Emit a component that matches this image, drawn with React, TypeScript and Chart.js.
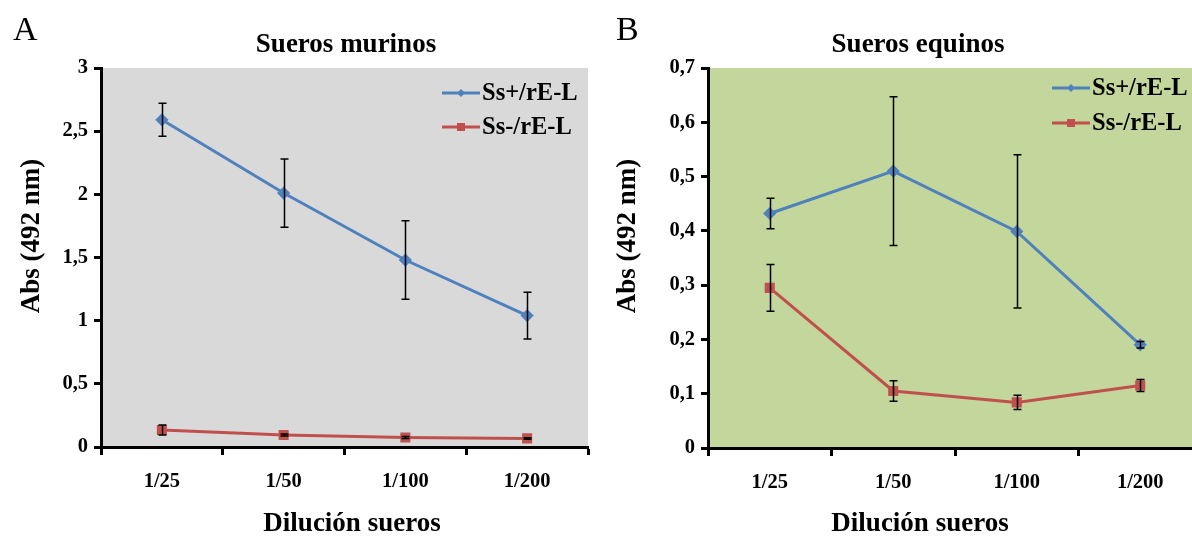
import React, { useEffect, useRef } from "react";
import { Chart, registerables } from "chart.js";

Chart.register(...registerables);

// Serum dilutions on the x axis
const categories = ["1/25", "1/50", "1/100", "1/200"];
const seriesNames = ["Ss+/rE-L", "Ss-/rE-L"];

// Panel A: murine sera (absorbance at 492 nm, mean and error)
const murinePos = [2.59, 2.01, 1.48, 1.04];
const murinePosErr = [0.13, 0.27, 0.31, 0.185];
const murineNeg = [0.135, 0.095, 0.075, 0.068];
const murineNegErr = [0.04, 0.008, 0.008, 0.006];
const murineTicks = [0, 0.5, 1, 1.5, 2, 2.5, 3];

// Panel B: equine sera
const equinePos = [0.432, 0.51, 0.399, 0.19];
const equinePosErr = [0.028, 0.137, 0.141, 0.006];
const equineNeg = [0.295, 0.105, 0.084, 0.115];
const equineNegErr = [0.043, 0.019, 0.013, 0.011];
const equineTicks = [0, 0.1, 0.2, 0.3, 0.4, 0.5, 0.6, 0.7];

const BLUE = "#4f81bd";
const RED = "#c0504d";
const FONT = "'Liberation Serif', 'Times New Roman', serif";

type PanelCfg = {
  letter: string;
  letterX: number;
  title: string;
  titleX: number;
  xTitleX: number;
  yTitleX: number;
  yTitleY: number;
  bg: string;
  pos: number[];
  posErr: number[];
  neg: number[];
  negErr: number[];
  ticks: number[];
  max: number;
  yWidth: number;
  width: number;
  padRight: number;
  bottom: number;
  legendX: number;
  legendY: number[];
};

const fmt = (v: number) => String(+v.toFixed(2)).replace(".", ",");

function makeChart(canvas: HTMLCanvasElement, cfg: PanelCfg) {
  const errs = [cfg.posErr, cfg.negErr];

  const panelPlugin = {
    id: "panelDecor",
    beforeDraw(chart: any) {
      const { ctx, chartArea } = chart;
      ctx.save();
      ctx.fillStyle = cfg.bg;
      ctx.fillRect(chartArea.left, chartArea.top, chartArea.right - chartArea.left, chartArea.bottom - chartArea.top);
      ctx.restore();
    },
    afterDatasetsDraw(chart: any) {
      const { ctx } = chart;
      const x = chart.scales.x;
      const y = chart.scales.y;
      ctx.save();
      ctx.strokeStyle = "#000";
      ctx.lineWidth = 1.5;
      chart.data.datasets.forEach((ds: any, di: number) => {
        ds.data.forEach((v: number, i: number) => {
          const e = errs[di][i];
          const px = Math.round(x.getPixelForValue(i)) + 0.5;
          const top = y.getPixelForValue(v + e);
          const bot = y.getPixelForValue(v - e);
          ctx.beginPath();
          ctx.moveTo(px, top);
          ctx.lineTo(px, bot);
          ctx.moveTo(px - 4, top);
          ctx.lineTo(px + 4, top);
          ctx.moveTo(px - 4, bot);
          ctx.lineTo(px + 4, bot);
          ctx.stroke();
        });
      });
      ctx.restore();
    },
    afterDraw(chart: any) {
      const { ctx } = chart;
      ctx.save();
      ctx.fillStyle = "#000";
      ctx.textBaseline = "middle";
      // panel letter
      ctx.textAlign = "left";
      ctx.font = `34px ${FONT}`;
      ctx.fillText(cfg.letter, cfg.letterX, 31);
      // title
      ctx.textAlign = "center";
      ctx.font = `bold 27px ${FONT}`;
      ctx.fillText(cfg.title, cfg.titleX, 45);
      // x axis title
      ctx.font = `bold 27px ${FONT}`;
      ctx.fillText("Dilución sueros", cfg.xTitleX, 524);
      // y axis title
      ctx.save();
      ctx.translate(cfg.yTitleX, cfg.yTitleY);
      ctx.rotate(-Math.PI / 2);
      ctx.fillText("Abs (492 nm)", 0, 0);
      ctx.restore();
      // legend
      chart.data.datasets.forEach((ds: any, di: number) => {
        const ly = cfg.legendY[di];
        const lx = cfg.legendX;
        ctx.strokeStyle = ds.borderColor;
        ctx.lineWidth = 3;
        ctx.beginPath();
        ctx.moveTo(lx, ly);
        ctx.lineTo(lx + 38, ly);
        ctx.stroke();
        ctx.fillStyle = ds.borderColor;
        if (di === 0) {
          ctx.beginPath();
          ctx.moveTo(lx + 19, ly - 4);
          ctx.lineTo(lx + 23, ly);
          ctx.lineTo(lx + 19, ly + 4);
          ctx.lineTo(lx + 15, ly);
          ctx.closePath();
          ctx.fill();
        } else {
          ctx.fillRect(lx + 15, ly - 4, 8, 8);
        }
        ctx.fillStyle = "#000";
        ctx.textAlign = "left";
        ctx.font = `bold 24.5px ${FONT}`;
        ctx.fillText(seriesNames[di], lx + 40, ly + 1);
      });
      ctx.restore();
    },
  };

  return new Chart(canvas, {
    type: "line",
    data: {
      labels: categories,
      datasets: [
        {
          label: seriesNames[0],
          data: cfg.pos,
          borderColor: BLUE,
          backgroundColor: BLUE,
          borderWidth: 3,
          pointStyle: "rectRot",
          pointRadius: 4.5,
          tension: 0,
        },
        {
          label: seriesNames[1],
          data: cfg.neg,
          borderColor: RED,
          backgroundColor: RED,
          borderWidth: 3,
          pointStyle: "rect",
          pointRadius: 5,
          tension: 0,
        },
      ],
    },
    plugins: [panelPlugin],
    options: {
      responsive: false,
      animation: false,
      devicePixelRatio: 1,
      layout: { padding: { top: 68, right: cfg.padRight, left: 0, bottom: 0 } },
      plugins: { legend: { display: false }, tooltip: { enabled: false }, title: { display: false } },
      scales: {
        x: {
          offset: true,
          grid: {
            offset: true,
            drawOnChartArea: false,
            drawTicks: true,
            tickLength: 8,
            tickWidth: 3,
            tickColor: "#000",
          },
          border: { color: "#000", width: 3 },
          ticks: {
            color: "#000",
            font: { family: FONT, size: 20.5, weight: "bold" },
            padding: 14,
            maxRotation: 0,
          },
          afterFit: (s: any) => {
            s.height = 537 - cfg.bottom;
          },
        },
        y: {
          min: 0,
          max: cfg.max,
          afterBuildTicks: (s: any) => {
            s.ticks = cfg.ticks.map((v) => ({ value: v }));
          },
          grid: {
            drawOnChartArea: false,
            drawTicks: true,
            tickLength: 7,
            tickWidth: 3,
            tickColor: "#000",
          },
          border: { color: "#000", width: 3 },
          ticks: {
            color: "#000",
            font: { family: FONT, size: 20.5, weight: "bold" },
            padding: 6,
            callback: (v: any) => fmt(Number(v)),
          },
          afterFit: (s: any) => {
            s.width = cfg.yWidth;
          },
        },
      },
    },
  });
}

const panelA: PanelCfg = {
  letter: "A",
  letterX: 13,
  title: "Sueros murinos",
  titleX: 346,
  xTitleX: 352,
  yTitleX: 32,
  yTitleY: 236,
  bg: "#d9d9d9",
  pos: murinePos,
  posErr: murinePosErr,
  neg: murineNeg,
  negErr: murineNegErr,
  ticks: murineTicks,
  max: 3,
  yWidth: 101,
  width: 596,
  padRight: 5,
  bottom: 447,
  legendX: 442,
  legendY: [93, 127],
};

const panelB: PanelCfg = {
  letter: "B",
  letterX: 20,
  title: "Sueros equinos",
  titleX: 322,
  xTitleX: 324,
  yTitleX: 32,
  yTitleY: 236,
  bg: "#c3d69b",
  pos: equinePos,
  posErr: equinePosErr,
  neg: equineNeg,
  negErr: equineNegErr,
  ticks: equineTicks,
  max: 0.7,
  yWidth: 112,
  width: 620,
  padRight: 14,
  bottom: 448,
  legendX: 456,
  legendY: [88, 123],
};

function Panel({ cfg, left }: { cfg: PanelCfg; left: number }) {
  const ref = useRef<HTMLCanvasElement | null>(null);
  useEffect(() => {
    if (!ref.current) return;
    const chart = makeChart(ref.current, cfg);
    return () => chart.destroy();
  }, [cfg]);
  return (
    <canvas
      ref={ref}
      width={cfg.width}
      height={537}
      style={{ position: "absolute", left, top: 0, width: cfg.width, height: 537 }}
    />
  );
}

export default function App() {
  return (
    <div
      style={{
        position: "fixed",
        left: 0,
        top: 0,
        width: 1192,
        height: 537,
        background: "#fff",
        overflow: "hidden",
      }}
    >
      <Panel cfg={panelA} left={0} />
      <Panel cfg={panelB} left={596} />
    </div>
  );
}
